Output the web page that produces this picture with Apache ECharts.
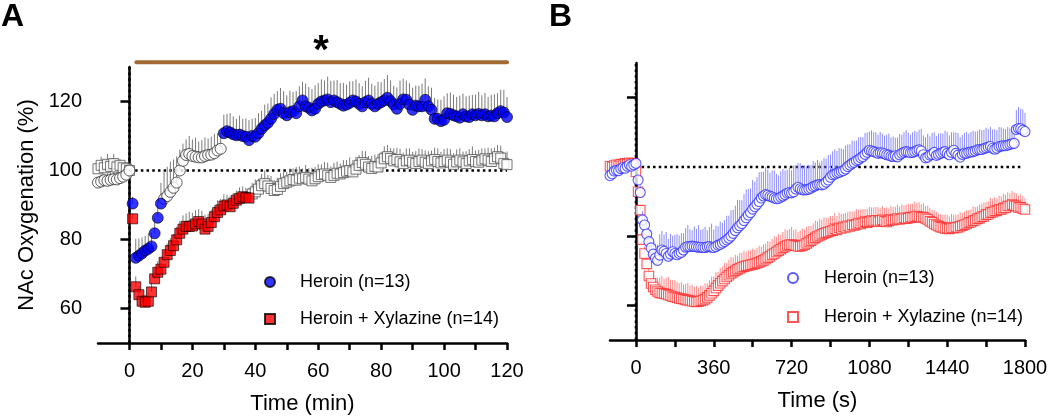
<!DOCTYPE html>
<html><head><meta charset="utf-8">
<script src="https://cdn.jsdelivr.net/npm/echarts@6/dist/echarts.min.js"></script>
<style>html,body{margin:0;padding:0;background:#fff}#c{width:1050px;height:418px}</style>
</head><body><div id="c"></div>
<script>
// ---------- Panel A (1-min samples, -10 .. 120 min) ----------
const A_START = -10, A_STEP = 1;
const heroinA = [
  96.5, 96.8, 97.2, 97.0, 97.3, 97.5, 97.4, 97.8, 98.2, 98.8, 100.0,
  90.4, 74.7, 75.3, 76.0, 76.8, 77.3, 78.0, 81.8, 86.3, 90.4,
  91.8, 92.6, 93.8, 95.0, 96.5, 100.0, 102.8, 104.5, 104.8, 104.2,
  104.0, 103.8, 103.8, 104.2, 104.5, 104.6, 105.0, 105.8, 106.3,
  110.8, 111.4, 111.0, 110.5, 110.2, 110.4, 110.0, 109.8, 108.8, 110.0,
  109.8, 110.8, 112.1, 113.1, 113.8, 115.0, 116.4, 117.6, 117.9, 116.6,
  116.0, 116.9, 117.2, 116.6, 118.6, 120.3, 118.6, 118.2, 117.4, 117.9,
  119.3, 120.0, 120.3, 120.6, 119.8, 120.3, 119.8, 119.3, 118.8, 119.1,
  119.6, 120.3, 120.0, 119.3, 118.6, 119.8, 120.3, 119.3, 118.6, 119.3,
  119.8, 120.3, 121.1, 120.1, 119.1, 117.9, 119.3, 120.6, 120.5, 119.1,
  117.6, 118.8, 118.6, 118.6, 120.5, 118.6, 117.6, 115.0, 115.0, 114.3,
  114.7, 116.6, 116.4, 116.0, 115.7, 115.3, 116.3, 115.7, 115.5, 116.3,
  116.0, 116.4, 116.0, 116.3, 115.7, 115.9, 115.7, 116.6, 117.2, 116.8, 115.5
];
const heroinA_sem = [
  1.5, 2.0, 1.8, 2.2, 2.5, 2.0, 2.8, 2.2, 1.8, 1.5, 0.5,
  2.0, 5.5, 5.0, 4.6, 4.2, 4.5, 4.0, 4.5, 5.5, 6.0,
  8.0, 8.5, 8.8, 8.2, 7.6, 6.0, 5.0, 4.5, 5.2, 4.8,
  5.5, 4.6, 5.0, 5.4, 4.8, 5.2, 5.6, 5.0, 4.6,
  5.4, 5.0, 5.6, 5.2, 4.8, 5.5, 5.0, 5.3, 5.8, 5.0,
  5.4, 5.8, 5.2, 6.0, 5.6, 6.2, 5.8, 5.4, 6.0, 6.4,
  5.8, 6.2, 5.6, 6.4, 5.8, 5.4, 6.6, 6.0, 6.2, 6.8,
  6.0, 6.4, 5.8, 6.6, 6.2, 5.8, 6.4, 6.0, 6.6, 5.8,
  6.2, 5.6, 6.4, 6.0, 5.8, 6.2, 6.6, 5.8, 6.0, 6.4,
  5.8, 6.2, 6.6, 6.0, 5.4, 6.2, 6.8, 6.0, 5.6, 6.2,
  6.4, 5.8, 6.0, 6.6, 6.2, 5.8, 6.4, 6.0, 5.6, 6.2,
  6.8, 5.8, 6.2, 6.0, 5.6, 6.4, 6.0, 5.8, 6.2, 5.6,
  6.0, 6.4, 5.8, 6.2, 5.6, 6.0, 6.4, 5.8, 6.2, 6.6, 5.8
];
const hxA = [
  100.5, 101.5, 100.8, 101.8, 101.2, 102.0, 101.0, 101.5, 100.8, 100.5, 100.0,
  86.0, 66.3, 64.0, 62.1, 61.8, 62.1, 64.8, 68.6, 70.5, 71.4,
  73.4, 75.6, 76.8, 78.2, 79.9, 81.8, 83.0, 83.8, 83.8, 83.9,
  84.5, 85.2, 84.5, 83.0, 83.8, 84.9, 86.6, 87.8, 88.6, 89.7,
  90.0, 89.5, 90.5, 91.4, 91.9, 92.4, 92.2, 92.0,
  93.2, 93.8, 94.6, 95.6, 96.2, 95.5, 94.8, 94.2, 94.5, 95.4,
  96.2, 96.6, 97.0, 97.4, 97.2, 97.8, 97.6, 98.0, 97.5, 97.0,
  97.6, 98.2, 98.8, 99.0, 98.5, 98.0, 98.6, 99.2, 99.0, 99.4,
  99.8, 100.0, 99.6, 100.4, 101.5, 102.3, 101.8, 101.0, 100.6, 101.2,
  101.0, 102.2, 103.4, 104.0, 103.5, 102.8, 103.2, 102.5, 102.0, 102.8,
  103.0, 102.4, 102.0, 102.6, 103.0, 102.4, 102.0, 102.8, 103.2, 102.6,
  102.2, 102.6, 103.0, 102.4, 101.8, 102.5, 103.0, 102.5, 102.0, 102.8,
  103.2, 102.6, 102.4, 103.0, 103.4, 103.0, 102.6, 103.4, 104.0, 103.6,
  102.0, 101.7
];
const hxA_sem = [
  1.5, 2.5, 2.0, 3.0, 2.2, 2.8, 2.0, 1.8, 1.5, 1.2, 0.5,
  1.5, 3.0, 2.5, 2.0, 2.2, 2.4, 2.8, 3.0, 3.2, 3.0,
  3.4, 3.2, 3.6, 3.4, 3.8, 3.6, 4.0, 3.8, 4.2, 3.8,
  4.0, 3.6, 3.8, 4.2, 3.6, 3.8, 3.4, 3.6, 3.2, 3.4,
  3.0, 3.2, 3.0, 2.8, 3.2, 3.0, 2.8, 3.0,
  3.2, 3.6, 3.0, 3.4, 3.8, 3.2, 3.6, 3.0, 3.4, 3.8,
  3.4, 3.0, 3.6, 3.2, 3.8, 3.4, 3.0, 3.6, 3.2, 3.8,
  3.4, 3.6, 3.0, 3.4, 3.8, 3.2, 3.6, 3.4, 3.0, 3.6,
  3.2, 3.8, 3.4, 3.6, 3.0, 3.4, 3.8, 3.2, 3.6, 3.4,
  3.8, 3.2, 3.6, 3.4, 3.0, 3.6, 3.4, 3.8, 3.2, 3.6,
  3.4, 3.0, 3.6, 3.8, 3.2, 3.4, 3.6, 3.0, 3.4, 3.8,
  3.2, 3.6, 3.4, 3.8, 3.2, 3.6, 3.4, 3.0, 3.6, 3.4,
  3.8, 3.2, 3.6, 3.4, 3.0, 3.6, 3.8, 3.2, 3.4, 3.6,
  3.4, 3.8
];
// time ranges (min) drawn with filled symbols (significant vs baseline)
const heroinSigA = [[1, 10], [30, 120]];
const hxSigA = [[1, 38]];
// significance bar between groups (min) and its height (%)
const sigBarA = [2.2, 120];
const sigBarLevel = 131.4;

// ---------- Panel B (10-s samples, -120 .. 1800 s) ----------
const B_START = -120, B_STEP = 10;
const heroinB = [
  97.5, 98.0, 98.8, 99.0, 98.9, 99.5, 99.8, 99.6, 100.2, 100.6, 100.2, 100.6, 101.0,
  96.2, 92.6, 84.7, 83.2, 80.6, 78.4, 76.6, 74.8, 73.6, 73.0,
  74.5, 76.0, 75.6, 75.0, 74.2, 74.8, 75.5, 75.0, 74.6, 75.0,
  75.3, 76.0, 76.8, 77.0, 77.0, 77.1, 77.0, 76.9, 76.8, 76.8,
  76.7, 76.7, 76.9, 77.0, 76.8, 76.7, 77.0, 77.4, 77.6, 78.0,
  78.4, 78.9, 79.4, 80.0, 80.8, 81.6, 82.4, 83.0, 83.6, 84.5,
  85.3, 86.1, 86.8, 87.8, 88.5, 89.2, 90.0, 91.0, 91.6, 92.0,
  91.8, 91.5, 91.3, 91.0, 90.8, 90.9, 91.3, 91.6, 92.0, 92.4,
  92.6, 92.5, 92.8, 93.6, 94.1, 93.7, 93.4, 93.3, 93.4, 93.6,
  93.9, 94.3, 94.5, 94.8, 94.9, 94.8, 95.0, 95.6, 96.2, 97.0,
  97.7, 97.9, 98.2, 98.4, 98.7, 98.9, 99.4, 100.1, 100.5, 101.0,
  101.3, 101.8, 102.1, 102.6, 103.0, 103.6, 104.2, 104.8, 104.6, 104.4,
  104.2, 103.9, 104.1, 104.0, 103.8, 103.5, 103.4, 103.1, 103.0, 103.2,
  102.9, 103.5, 103.9, 104.2, 104.4, 104.3, 104.1, 104.2, 104.4, 104.7,
  104.9, 104.6, 103.5, 102.6, 102.8, 103.4, 103.6, 104.2, 103.3, 103.6,
  103.9, 104.2, 104.4, 103.9, 103.5, 104.2, 104.8, 103.9, 103.4, 102.8,
  103.6, 104.0, 103.9, 104.2, 104.3, 104.4, 104.6, 104.9, 105.0, 105.0,
  105.3, 105.5, 105.7, 105.9, 105.4, 105.1, 105.4, 105.9, 106.0, 106.1,
  106.1, 106.3, 106.5, 106.7, 106.8, 110.8, 111.1, 111.0, 110.6, 110.2
];
const heroinB_sem = [
  1.0, 1.2, 0.9, 1.1, 1.0, 1.3, 1.2, 1.0, 1.1, 1.4, 1.2, 1.0, 0.8,
  1.5, 2.0, 2.5, 3.0, 3.2, 3.5, 3.8, 4.0, 4.2, 4.5,
  6.0, 5.5, 4.8, 6.2, 5.0, 5.8, 4.6, 5.4, 6.0, 5.2,
  5.6, 4.8, 5.5, 6.2, 5.0, 4.6, 5.8, 5.2, 6.4, 5.0,
  5.4, 6.0, 4.8, 5.6, 6.8, 5.2, 6.0, 5.5, 6.6, 5.8,
  6.2, 7.0, 6.5, 7.5, 6.8, 7.2, 8.0, 7.4, 6.8, 7.6,
  8.2, 7.5, 7.0, 8.4, 7.2, 7.8, 8.5, 7.6, 7.0, 8.0,
  7.4, 6.8, 7.6, 8.0, 7.2, 6.6, 7.4, 7.8, 7.0, 6.8,
  7.2, 6.5, 7.6, 6.8, 7.0, 7.4, 6.6, 7.2, 6.8, 7.0,
  6.6, 7.4, 6.8, 7.2, 6.4, 7.0, 7.6, 6.8, 7.2, 6.6,
  6.8, 7.2, 6.4, 7.0, 6.6, 6.2, 6.8, 6.4, 6.0, 6.6,
  6.2, 5.8, 6.4, 6.0, 5.6, 6.2, 5.8, 5.4, 6.0, 5.6,
  5.8, 5.4, 6.0, 5.6, 5.2, 5.8, 6.2, 5.4, 5.8, 5.2,
  5.6, 6.0, 5.4, 5.8, 6.2, 5.6, 5.2, 5.8, 6.0, 5.4,
  5.8, 6.4, 5.6, 6.0, 6.8, 5.4, 6.2, 5.8, 5.6, 6.0,
  5.8, 5.4, 6.0, 6.2, 5.6, 5.8, 5.2, 6.0, 6.4, 5.8,
  5.6, 5.8, 6.2, 5.4, 5.8, 6.0, 5.6, 5.4, 5.8, 5.6,
  5.4, 5.8, 5.2, 5.6, 5.4, 5.8, 5.2, 5.6, 5.4, 5.0,
  4.8, 5.2, 4.6, 5.0, 4.8, 5.6, 6.2, 5.8, 6.0, 5.4
];
const hxB = [
  100.2, 100.0, 100.4, 100.6, 100.3, 100.8, 100.6, 101.0, 100.8, 101.2, 101.0, 100.9, 98.6,
  92.8, 87.5, 79.0, 75.0, 72.0, 68.5, 66.3, 65.3, 64.5, 64.0,
  63.6, 63.5, 63.4, 63.2, 63.0, 62.8, 62.5, 62.4, 62.2, 62.0,
  61.9, 61.8, 61.6, 61.5, 61.4, 61.2, 61.1, 61.0, 61.1, 61.3,
  61.5, 61.8, 62.3, 62.9, 63.5, 64.2, 65.0, 65.7, 66.4, 67.0,
  67.6, 68.2, 68.7, 69.2, 69.6, 70.0, 70.4, 70.7, 71.0, 71.2,
  71.4, 71.5, 71.7, 71.8, 72.0, 72.2, 72.4, 72.7, 73.0, 73.4,
  73.8, 74.2, 74.6, 75.0, 75.4, 75.8, 76.2, 76.6, 77.0, 77.3,
  77.5, 77.6, 77.4, 77.2, 77.0, 77.0, 77.2, 77.5, 77.9, 78.3,
  78.7, 79.1, 79.5, 79.9, 80.2, 80.5, 80.8, 81.0, 81.2, 81.4,
  81.6, 82.1, 81.8, 82.4, 82.2, 82.7, 82.5, 83.0, 82.8, 83.3,
  83.1, 83.4, 83.8, 83.5, 83.8, 84.2, 83.9, 84.2, 84.5, 84.3,
  84.6, 84.2, 84.5, 84.7, 84.3, 84.1, 84.4, 84.8, 84.6, 84.8,
  85.1, 84.8, 85.0, 85.3, 85.0, 85.2, 85.5, 85.3, 85.6, 85.8,
  85.6, 85.4, 85.5, 85.1, 84.8, 84.3, 84.0, 83.5, 83.2, 82.9,
  82.6, 82.5, 82.2, 82.3, 82.1, 82.4, 82.3, 82.6, 82.5, 82.9,
  83.0, 83.3, 83.5, 83.9, 84.0, 84.4, 84.6, 85.0, 85.2, 85.6,
  85.7, 86.2, 86.3, 86.8, 86.9, 87.3, 87.3, 87.7, 87.7, 88.1,
  88.2, 88.7, 88.7, 89.1, 88.8, 88.7, 88.3, 88.3, 87.9, 87.7
];
const hxB_sem = [
  0.8, 1.0, 0.8, 1.2, 1.0, 0.9, 1.1, 1.0, 0.8, 1.0, 0.9, 0.8, 1.0,
  1.2, 1.5, 1.8, 2.0, 2.2, 2.5, 2.8, 3.0, 3.5, 4.0,
  4.5, 5.0, 4.2, 4.8, 5.2, 4.5, 4.8, 5.0, 4.6, 4.4,
  4.8, 4.2, 4.6, 5.0, 4.4, 4.8, 4.2, 4.6, 4.0, 4.4,
  4.2, 4.6, 4.0, 4.4, 4.8, 4.2, 4.6, 4.0, 4.4, 4.2,
  4.6, 4.0, 4.4, 4.8, 4.2, 4.6, 4.0, 4.4, 4.2, 4.6,
  4.0, 4.4, 4.2, 4.6, 4.0, 4.4, 4.8, 4.2, 4.6, 4.4,
  4.8, 4.2, 4.6, 5.0, 4.4, 4.8, 4.2, 4.6, 5.0, 4.4,
  4.6, 5.0, 4.4, 4.8, 4.2, 4.6, 5.0, 4.4, 4.8, 4.6,
  4.2, 4.6, 5.0, 4.4, 4.8, 4.2, 4.6, 4.4, 4.0, 4.4,
  4.2, 4.6, 4.0, 4.4, 4.2, 3.8, 4.2, 4.0, 4.4, 3.8,
  4.0, 4.4, 3.8, 4.2, 4.0, 3.6, 4.0, 4.2, 3.8, 4.0,
  3.8, 4.2, 3.6, 4.0, 3.8, 4.2, 3.6, 4.0, 3.8, 3.6,
  4.0, 3.8, 4.2, 3.6, 4.0, 4.2, 3.8, 4.0, 4.4, 3.8,
  4.2, 3.8, 4.0, 3.6, 4.0, 3.8, 3.6, 4.0, 3.8, 3.6,
  3.8, 3.6, 4.0, 3.8, 3.6, 4.0, 3.8, 3.6, 3.8, 4.0,
  3.6, 3.8, 4.0, 3.6, 3.8, 4.2, 3.8, 3.6, 4.0, 3.8,
  4.0, 3.6, 3.8, 4.2, 3.8, 4.0, 3.6, 4.0, 3.8, 4.2,
  3.8, 4.0, 3.6, 4.0, 3.8, 3.6, 3.4, 3.8, 3.6, 3.4
];

// ---------- Axes / labels ----------
const yTicks = [60, 80, 100, 120];
const xTicksA = [0, 10, 20, 30, 40, 50, 60, 70, 80, 90, 100, 110, 120];
const xLabelsA = [0, 20, 40, 60, 80, 100, 120];
const xTicksB = [0, 180, 360, 540, 720, 900, 1080, 1260, 1440, 1620, 1800];
const xLabelsB = [0, 360, 720, 1080, 1440, 1800];
const legendNames = ['Heroin (n=13)', 'Heroin + Xylazine (n=14)'];
const legendNamesB = legendNames.map(n => n + ' ');

// ---------- helpers ----------
const FONT = 'Liberation Sans, Arial, Helvetica, sans-serif';
const SQUARE = 'path://M0,0L10,0L10,10L0,10Z';
function pts(start, step, vals) { return vals.map((v, i) => [start + i * step, v]); }
function bars(start, step, vals, sem) { return vals.map((v, i) => [start + i * step, v, sem[i]]); }
function inR(t, ranges) { return ranges.some(r => t >= r[0] && t <= r[1]); }
function errSeries(data, xi, color, z) {
  return {
    type: 'custom', xAxisIndex: xi, yAxisIndex: xi, z: z, silent: true,
    dimensions: ['t', 'v', 's'], encode: { x: 0, y: 1 },
    data: data,
    renderItem: function (params, api) {
      const t = api.value(0), v = api.value(1), s = api.value(2);
      const p1 = api.coord([t, v]), p2 = api.coord([t, v + s]);
      return { type: 'line', shape: { x1: p1[0], y1: p1[1], x2: p2[0], y2: p2[1] },
        style: { stroke: color, lineWidth: 1 } };
    }
  };
}
function refLine(xi, data) {
  return { type: 'line', xAxisIndex: xi, yAxisIndex: xi, data: data, symbol: 'none', silent: true, z: 2,
    lineStyle: { color: '#000', width: 2.5, type: [2.5, 3.2] }, animation: false };
}

const hA = pts(A_START, A_STEP, heroinA), xA = pts(A_START, A_STEP, hxA);
const hB = pts(B_START, B_STEP, heroinB), xB = pts(B_START, B_STEP, hxB);

const axisLineStyle = { lineStyle: { color: '#000', width: 2.5 } };

const option = {
  animation: false,
  textStyle: { fontFamily: FONT },
  grid: [
    { left: 98, top: 67, width: 409, height: 276, outerBoundsMode: 'none', containLabel: false },
    { left: 610, top: 63, width: 415, height: 277, outerBoundsMode: 'none', containLabel: false }
  ],
  xAxis: [
    { type: 'value', gridIndex: 0, min: -10, max: 120, splitLine: { show: false },
      axisLine: axisLineStyle, axisTick: { customValues: xTicksA, length: 7, lineStyle: { color: '#000', width: 2.5 } },
      axisLabel: { customValues: xLabelsA, color: '#000', fontSize: 20, margin: 18, formatter: v => String(v), fontFamily: FONT },
      name: 'Time (min)', nameLocation: 'middle', nameGap: 50, nameTextStyle: { fontSize: 22, color: '#000', fontFamily: FONT } },
    { type: 'value', gridIndex: 1, min: -120, max: 1800, splitLine: { show: false },
      axisLine: axisLineStyle, axisTick: { customValues: xTicksB, length: 7, lineStyle: { color: '#000', width: 2.5 } },
      axisLabel: { customValues: xLabelsB, color: '#000', fontSize: 20, margin: 18, formatter: v => String(v), fontFamily: FONT },
      name: 'Time (s)', nameLocation: 'middle', nameGap: 50, nameTextStyle: { fontSize: 22, color: '#000', fontFamily: FONT } }
  ],
  yAxis: [
    { type: 'value', gridIndex: 0, min: 50, max: 130, splitLine: { show: false },
      axisLine: axisLineStyle, axisTick: { customValues: yTicks, length: 9, lineStyle: { color: '#000', width: 2.5 } },
      axisLabel: { customValues: yTicks, color: '#000', fontSize: 20, margin: 16, formatter: v => String(v), fontFamily: FONT },
      name: 'NAc Oxygenation (%)', nameLocation: 'middle', nameGap: 60, nameTextStyle: { fontSize: 22, color: '#000', fontFamily: FONT } },
    { type: 'value', gridIndex: 1, min: 50, max: 130, splitLine: { show: false },
      axisLine: axisLineStyle, axisTick: { customValues: yTicks, length: 9, lineStyle: { color: '#000', width: 2.5 } },
      axisLabel: { show: false } }
  ],
  legend: [
    { orient: 'vertical', left: 259, top: 268, itemWidth: 50, itemHeight: 10, itemGap: 19, selectedMode: false,
      data: legendNames, textStyle: { fontSize: 18, color: '#000', fontFamily: FONT } },
    { orient: 'vertical', left: 782, top: 264, itemWidth: 52, itemHeight: 10, itemGap: 21, selectedMode: false,
      data: legendNamesB, textStyle: { fontSize: 18, color: '#000', fontFamily: FONT } }
  ],
  graphic: [
    { type: 'text', x: 1, y: 17, style: { text: 'A', font: 'bold 32px ' + FONT, fill: '#000', textVerticalAlign: 'middle' } },
    { type: 'text', x: 549, y: 17, style: { text: 'B', font: 'bold 32px ' + FONT, fill: '#000', textVerticalAlign: 'middle' } },
    { type: 'text', x: 321, y: 52, style: { text: '*', font: 'bold 40px ' + FONT, fill: '#000', textAlign: 'center', textVerticalAlign: 'middle' } }
  ],
  series: [
    // Panel A
    refLine(0, [[0, 50], [0, 130]]),
    refLine(0, [[0, 100], [120, 100]]),
    { type: 'line', xAxisIndex: 0, yAxisIndex: 0, clip: false, symbol: 'none', silent: true, z: 2,
      data: sigBarA.map(t => [t, sigBarLevel]),
      lineStyle: { color: '#a36b34', width: 4, cap: 'round' } },
    errSeries(bars(A_START, A_STEP, hxA, hxA_sem), 0, '#7a7a7a', 3),
    errSeries(bars(A_START, A_STEP, heroinA, heroinA_sem), 0, '#7a7a7a', 3),
    { type: 'scatter', name: 'hx open A', xAxisIndex: 0, yAxisIndex: 0, z: 4, symbol: SQUARE, symbolSize: 10,
      data: xA.filter(p => !inR(p[0], hxSigA)),
      itemStyle: { color: '#fff', borderColor: '#505050', borderWidth: 1 } },
    { type: 'scatter', name: legendNames[1], xAxisIndex: 0, yAxisIndex: 0, z: 4, symbol: SQUARE, symbolSize: 10,
      data: xA.filter(p => inR(p[0], hxSigA)),
      itemStyle: { color: '#ff0000', borderColor: '#000', borderWidth: 0.8 } },
    { type: 'scatter', name: 'heroin open A', xAxisIndex: 0, yAxisIndex: 0, z: 5, symbol: 'circle', symbolSize: 11,
      data: hA.filter(p => !inR(p[0], heroinSigA)),
      itemStyle: { color: '#fff', borderColor: '#333', borderWidth: 1 } },
    { type: 'scatter', name: legendNames[0], xAxisIndex: 0, yAxisIndex: 0, z: 5, symbol: 'circle', symbolSize: 11,
      data: hA.filter(p => inR(p[0], heroinSigA)),
      itemStyle: { color: '#0000ff', borderColor: '#000', borderWidth: 0.8 } },
    // Panel B
    refLine(1, [[0, 50], [0, 130]]),
    refLine(1, [[0, 100], [1790, 100]]),
    errSeries(bars(B_START, B_STEP, hxB, hxB_sem), 1, '#ff8a8a', 3),
    { type: 'scatter', name: legendNamesB[1], xAxisIndex: 1, yAxisIndex: 1, z: 4, symbol: SQUARE, symbolSize: 9.5,
      data: xB, itemStyle: { color: '#fff', borderColor: '#ff2a2a', borderWidth: 1.1 } },
    errSeries(bars(B_START, B_STEP, heroinB, heroinB_sem), 1, '#8c8cff', 5),
    { type: 'scatter', name: legendNamesB[0], xAxisIndex: 1, yAxisIndex: 1, z: 6, symbol: 'circle', symbolSize: 10,
      data: hB, itemStyle: { color: '#fff', borderColor: '#2f2fff', borderWidth: 1.1 } }
  ]
};
const chart = echarts.init(document.getElementById('c'), null, { renderer: 'canvas' });
chart.setOption(option);
</script>
</body></html>
